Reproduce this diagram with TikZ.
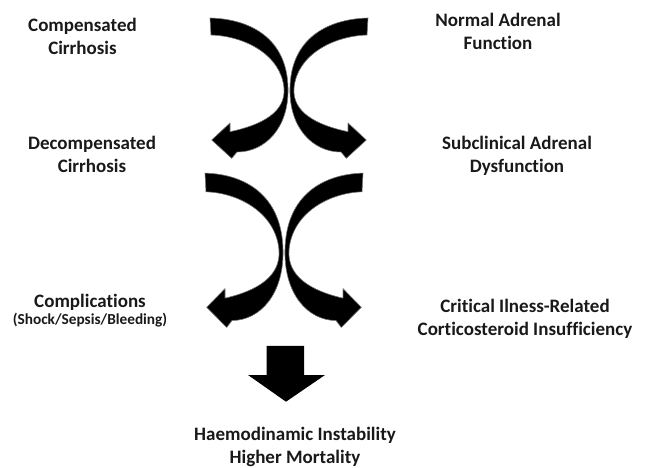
\documentclass[tikz,border=0pt]{standalone}
\usepackage{fontspec}
\setmainfont[Ligatures=NoCommon]{Carlito}
\begin{document}
\begin{tikzpicture}[x=1pt,y=-1pt,
  lbl/.style={font=\fontsize{19}{23}\selectfont\bfseries, align=center, inner sep=0pt, anchor=base, text=black!90},
  smalllbl/.style={font=\fontsize{15.3}{18}\selectfont\bfseries, inner sep=0pt, anchor=base, text=black!90},
  arrowfill/.style={fill=black, draw=black!55, line width=0.6pt, line join=round}
]
\useasboundingbox (0,0) rectangle (649,468);

% curved arrow shape (left one), local coords
\newcommand{\curvedarrowshape}{%
  (-79,1) .. controls (-39,2) and (-2,21) .. (-1,71)
  .. controls (0,111) and (-24,135) .. (-52,135)
  -- (-57.3,141.3) -- (-77.3,123) -- (-59,106) -- (-59,114.7)
  .. controls (-27,108) and (-3,95) .. (-5,71)
  .. controls (-8,38) and (-44,19) .. (-78,18) -- cycle}

% top pair
\begin{scope}[shift={(289,17)}]
  \path[arrowfill] \curvedarrowshape;
  \begin{scope}[xscale=-1]
    \path[arrowfill] \curvedarrowshape;
  \end{scope}
\end{scope}
% second pair
\begin{scope}[shift={(284,172)}, yscale=1.1]
  \path[arrowfill] \curvedarrowshape;
  \begin{scope}[xscale=-1]
    \path[arrowfill] \curvedarrowshape;
  \end{scope}
\end{scope}

% big down arrow
\path[fill=black] (266.7,346) -- (304,346) -- (304,375) -- (325,375) -- (286,401.7)
  -- (248,375) -- (266.7,375) -- cycle;

% labels (base anchor = baseline of last line)
\node[lbl] (comp) at (82.5,55) {Compensated\\Cirrhosis};
\node[lbl] (norm) at (498,50) {Normal Adrenal\\Function};
\node[lbl] (decomp) at (92,173) {Decompensated\\Cirrhosis};
\node[lbl] (subc) at (517,173) {Subclinical Adrenal\\Dysfunction};
\node[lbl] (compl) at (90,308) {Complications};
\node[smalllbl] (shock) at (90,325) {(Shock/Sepsis/Bleeding)};
\node[lbl] (circi) at (525,335) {Critical Ilness-Related\\Corticosteroid Insufficiency};
\node[lbl] (haemo) at (295,463) {Haemodinamic Instability\\Higher Mortality};
\end{tikzpicture}
\end{document}
